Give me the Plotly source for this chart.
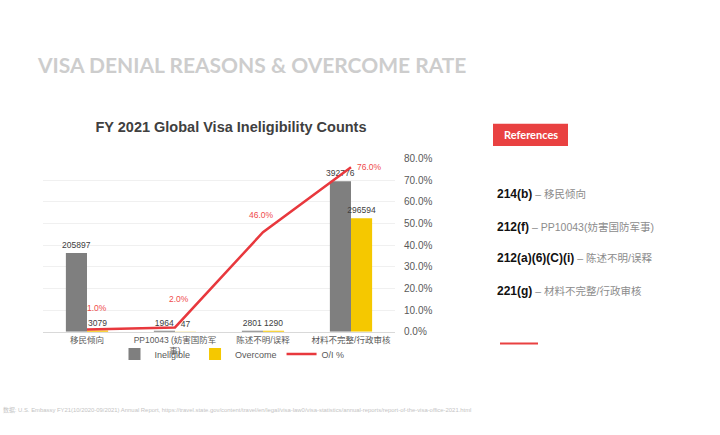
import plotly.graph_objects as go

categories = ["移民倾向", "PP10043 (妨害国防军<br>事)", "陈述不明/误释", "材料不完整/行政审核"]
ineligible = [205897, 1964, 2801, 392776]
overcome = [3079, 47, 1290, 296594]
oi_rate = [0.01, 0.02, 0.46, 0.76]

ref_codes = ["214(b)", "212(f)", "212(a)(6)(C)(i)", "221(g)"]
ref_desc = ["移民倾向", "PP10043(妨害国防军事)", "陈述不明/误释", "材料不完整/行政审核"]

W, H = 720, 435
def px(x):
    return x / W
def py(y):
    return 1 - y / H

FONT = "Liberation Sans, Arial, Noto Sans CJK SC, sans-serif"
CJK = "Liberation Sans, Noto Sans CJK SC, sans-serif"

fig = go.Figure()
fig.add_trace(go.Bar(
    x=categories, y=ineligible, name="Ineligible",
    marker=dict(color="#7f7f7f", line=dict(width=0)),
    text=[str(v) for v in ineligible], textposition="outside", constraintext="none",
    textfont=dict(size=8.5, color="#404040", family=FONT),
    cliponaxis=False, yaxis="y",
))
fig.add_trace(go.Bar(
    x=categories, y=overcome, name="Overcome",
    marker=dict(color="#f5c800", line=dict(width=0)),
    text=[str(v) for v in overcome], textposition="outside", constraintext="none",
    textfont=dict(size=8.5, color="#404040", family=FONT),
    cliponaxis=False, yaxis="y",
))
fig.add_trace(go.Scatter(
    x=categories, y=oi_rate, name="O/I %", mode="lines",
    line=dict(color="#e8383d", width=2.5), yaxis="y2", cliponaxis=False,
))

# line value labels (offsets in px are style only)
label_shift = [(10, 22), (4, 28), (-2, 17), (18, 0)]
for c, v, (dx, dy) in zip(categories, oi_rate, label_shift):
    fig.add_annotation(x=c, y=v, xref="x", yref="y2", text=f"{v*100:.1f}%",
                       showarrow=False, xshift=dx, yshift=dy, xanchor="center", yanchor="middle",
                       font=dict(size=8.5, color="#ef4b4b", family=FONT))

# slide title
fig.add_annotation(x=px(35), y=py(60), xref="paper", yref="paper", xanchor="left", yanchor="middle",
                   text="<b>VISA DENIAL REASONS &amp; OVERCOME RATE</b>", showarrow=False,
                   font=dict(size=21, color="#cdcdcd", family="Lato, sans-serif"))

# references box
fig.add_shape(type="rect", xref="paper", yref="paper", x0=px(493), x1=px(568), y0=py(144), y1=py(121),
              fillcolor="#e94141", line=dict(width=0))
fig.add_annotation(x=px(530.5), y=py(132.5), xref="paper", yref="paper", xanchor="center", yanchor="middle",
                   text="<b>References</b>",
                   showarrow=False, font=dict(size=11, color="white", family="Lato, sans-serif"))

ref_y = [193, 227, 259, 293]
for code, desc, yy in zip(ref_codes, ref_desc, ref_y):
    fig.add_annotation(x=px(495), y=py(yy), xref="paper", yref="paper", xanchor="left", yanchor="middle",
                       text=f"<b>{code}</b><span style='color:#8c8c8c;font-size:10.5px'> – {desc}</span>",
                       showarrow=False, font=dict(size=12, color="#111111", family=CJK))

fig.add_shape(type="line", xref="paper", yref="paper", x0=px(500), x1=px(538), y0=py(347), y1=py(347),
              line=dict(color="#e94141", width=2))

# footer
fig.add_annotation(x=px(1), y=py(415), xref="paper", yref="paper", xanchor="left", yanchor="middle",
                   text="数据: U.S. Embassy FY21(10/2020-09/2021) Annual Report, https://travel.state.gov/content/travel/en/legal/visa-law0/visa-statistics/annual-reports/report-of-the-visa-office-2021.html",
                   showarrow=False, font=dict(size=5.9, color="#c4c4c4", family=CJK))

fig.update_layout(
    width=W, height=H, margin=dict(l=0, r=0, t=0, b=0),
    paper_bgcolor="white", plot_bgcolor="white",
    title=dict(text="<b>FY 2021 Global Visa Ineligibility Counts</b>", x=px(231), xanchor="center",
               y=py(127), yanchor="middle", font=dict(size=14.5, color="#404040", family=FONT)),
    barmode="group", bargap=0.52, bargroupgap=0,
    font=dict(family=CJK, color="#595959"),
    xaxis=dict(domain=[px(43), px(395)], showline=True, linecolor="#d9d9d9", linewidth=1,
               ticks="", tickfont=dict(size=8.5, color="#595959", family=CJK), showgrid=False),
    yaxis=dict(domain=[py(335), py(157)], range=[0, 452000], visible=False, showgrid=False),
    yaxis2=dict(overlaying="y", side="right", anchor="x", range=[0, 0.8], dtick=0.1, tickformat=".1%",
                showgrid=True, gridcolor="#f0f0f0", gridwidth=1, zeroline=False, showline=False,
                tickfont=dict(size=10, color="#595959", family=FONT), ticklabelstandoff=8),
    legend=dict(orientation="h", x=px(232), xanchor="center", y=py(358), yanchor="middle",
                font=dict(size=9, color="#595959", family=FONT), bgcolor="rgba(0,0,0,0)",
                itemwidth=30, tracegroupgap=0),
    showlegend=True,
)

fig.write_html(
    "out.html",
    config={"displayModeBar": False},
    post_script=(
        "var h=document.documentElement,b=document.body,gd=document.getElementById('{plot_id}');"
        "h.style.margin='0';h.style.padding='0';h.style.overflow='hidden';"
        "b.style.margin='0';b.style.padding='0';b.style.overflow='hidden';"
        "gd.style.position='absolute';gd.style.left='0px';gd.style.top='0px';"
    ),
)
